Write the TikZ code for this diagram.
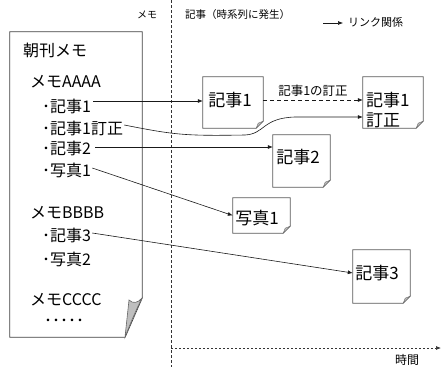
\documentclass[tikz,border=0pt]{standalone}
\usepackage{fontspec}
\setmainfont{Noto Sans CJK JP}
\usetikzlibrary{arrows.meta,calc}
\begin{document}
\begin{tikzpicture}[x=1pt,y=-1pt,
  memotxt/.style={anchor=west,inner sep=0pt,font=\fontsize{16}{18}\selectfont},
  boxtxt/.style={inner sep=0pt,font=\fontsize{17}{20}\selectfont},
  smalltxt/.style={inner sep=0pt,font=\fontsize{10.5}{12}\selectfont},
  artbox/.style={rectangle,inner sep=0pt,minimum width=#1},
  boxline/.style={draw=black!65,line width=0.7pt},
  flap/.style={fill=black!25,draw=black!60,line width=0.4pt},
  link/.style={draw=black!90,line width=0.6pt,-{Latex[length=5pt,width=4pt]}},
]
\useasboundingbox (0,0) rectangle (442,367);

% separator and time axis
\coordinate (vtop) at (171,0);
\coordinate (vbot) at (171,367);
\coordinate (hst) at (171,348);
\coordinate (hend) at (441,348);
\draw[black!80,line width=0.6pt,dash pattern=on 3pt off 2pt] (vtop) -- (vbot);
\draw[black!80,line width=0.7pt,dash pattern=on 2pt off 2pt,-{Latex[length=5pt,width=4pt]}] (hst) -- (hend);

% headers
\node[smalltxt,font=\fontsize{10}{12}\selectfont] (hmemo) at (147,15) {メモ};
\node[smalltxt,anchor=west] (hart) at (185,15) {記事（時系列に発生）};
\coordinate (lga) at (323,23);
\coordinate (lgb) at (343,23);
\draw[link] (lga) -- (lgb);
\node[smalltxt,anchor=west,font=\fontsize{11}{12}\selectfont] (hlink) at (348,22) {リンク関係};
\node[smalltxt,font=\fontsize{12}{14}\selectfont] (htime) at (407,360) {時間};

% memo sheet
\node[rectangle,minimum width=132pt,minimum height=305pt,inner sep=0pt] (memo) at (76,184.5) {};
\draw[draw=black!75,line width=0.7pt] (memo.north west) -- (memo.north east) -- ([yshift=39pt]memo.south east)
  -- ([xshift=-17pt]memo.south east) -- (memo.south west) -- cycle;
\filldraw[flap,line width=0.6pt] (142,298) .. controls (138,303) and (133,304) .. (129,300) -- (125,337)
  .. controls (131,322) and (136,310) .. (142,298) -- cycle;

\node[memotxt] (mtitle) at (23,50) {朝刊メモ};
\node[memotxt] (ma) at (30,82) {メモAAAA};
\node[memotxt] (m1) at (42,106) {･記事1};
\node[memotxt] (m1c) at (42,128) {･記事1訂正};
\node[memotxt] (m2) at (42,148) {･記事2};
\node[memotxt] (mp1) at (42,170) {･写真1};
\node[memotxt] (mb) at (30,213) {メモBBBB};
\node[memotxt] (m3) at (42,235) {･記事3};
\node[memotxt] (mp2) at (42,259) {･写真2};
\node[memotxt] (mc) at (30,300) {メモCCCC};
\node[memotxt] (mdots) at (44,323) {･････};

% article boxes
\node[artbox=60pt,minimum height=51pt] (a1) at (233,102.5) {};
\node[artbox=60pt,minimum height=51pt] (a1c) at (393,102.5) {};
\node[artbox=57pt,minimum height=52pt] (a2) at (301.5,161) {};
\node[artbox=57pt,minimum height=35pt] (p1) at (261.5,215.5) {};
\node[artbox=57pt,minimum height=53pt] (a3) at (381.5,276.5) {};
\foreach \n in {a1,a1c,a2,p1,a3} {
  \draw[boxline] (\n.north west) -- (\n.north east) -- ([yshift=7pt]\n.south east)
    -- ([xshift=-7pt]\n.south east) -- (\n.south west) -- cycle;
  \filldraw[flap] ([yshift=7pt]\n.south east) -- ([xshift=-5pt,yshift=5pt]\n.south east)
    -- ([xshift=-7pt]\n.south east) -- cycle;
}
\node[boxtxt] (t1) at (230,100) {記事1};
\node[boxtxt,anchor=west] (t1c) at (366,100) {記事1};
\node[boxtxt,anchor=west] (t1c2) at (366,120) {訂正};
\node[boxtxt] (t2) at (298,157) {記事2};
\node[boxtxt] (tp1) at (257,218) {写真1};
\node[boxtxt] (t3) at (377,273) {記事3};

% links
\draw[link] ([xshift=2pt,yshift=5pt]m1.east) -- ([yshift=1.5pt]a1.west);
\draw[link,dash pattern=on 4pt off 3pt] ([yshift=2.5pt]a1.east) -- ([yshift=2.5pt]a1c.west)
  node[midway,above=3pt,inner sep=0pt,font=\fontsize{12.5}{14}\selectfont] (lab) {記事1の訂正};
\draw[link] ([xshift=1pt,yshift=3pt]m1c.east) .. controls (175,135) and (185,136) .. (245,135)
  .. controls (265,134) and (262,118) .. (295,117) -- ([yshift=-14.5pt]a1c.west);
\draw[link] ([xshift=4pt,yshift=1pt]m2.east) -- ([yshift=14pt]a2.west);
\draw[link] ([xshift=1pt,yshift=2pt]mp1.east) -- (p1.west);
\draw[link] ([xshift=1pt,yshift=2pt]m3.east) -- ([yshift=3.5pt]a3.west);
\end{tikzpicture}
\end{document}
